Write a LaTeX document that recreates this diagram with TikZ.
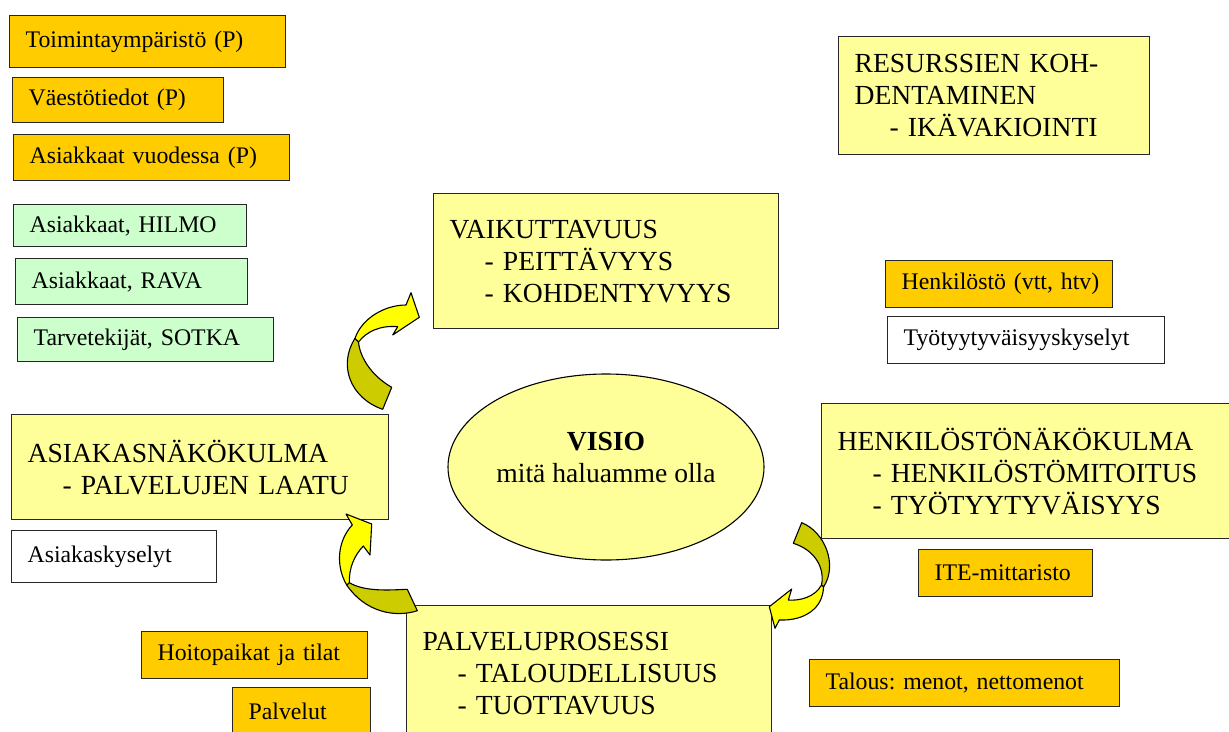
\documentclass[tikz,border=0pt]{standalone}
\usepackage{fontspec}
\setmainfont{Liberation Serif}
\usepackage{xcolor}
\usetikzlibrary{shapes.geometric}
\frenchspacing

\definecolor{boxorange}{HTML}{FFCC00}
\definecolor{boxgreen}{HTML}{CCFFCC}
\definecolor{boxyellow}{HTML}{FFFF99}
\definecolor{ribbonlight}{HTML}{FFFF00}
\definecolor{ribbondark}{HTML}{CCCC00}

\newcommand{\bigtext}{\fontsize{27.6pt}{32pt}\selectfont}
\newcommand{\smalltext}{\fontsize{23.8pt}{28pt}\selectfont}
\newcommand{\indline}{\hspace*{35pt}- }

\tikzset{
  databox/.style={draw=black!85, line width=1.2pt, anchor=north west,
    inner xsep=16pt, inner ysep=0pt, align=left, font=\smalltext},
  viewbox/.style={databox, fill=boxyellow, font=\bigtext},
  ribbon/.style={draw=black, line width=1.1pt, line join=round}
}

\begin{document}
\begin{tikzpicture}[x=1pt, y=-1pt]
\useasboundingbox (0,0) rectangle (1229,731);
\clip (0,0) rectangle (1229,731);

\node (vaik) [viewbox, text width=313pt, minimum height=135pt]
       at (433,193) {VAIKUTTAVUUS\\\indline PEITTÄVYYS\\\indline KOHDENTYVYYS};
\node (resurs) [viewbox, text width=279pt, minimum height=118pt]
       at (838,36) {RESURSSIEN KOH-\\DENTAMINEN\\\indline IKÄVAKIOINTI};
\node (asnak) [viewbox, text width=345pt, minimum height=105pt]
       at (11,414) {ASIAKASNÄKÖKULMA\\\indline PALVELUJEN LAATU};
\node (henak) [viewbox, text width=382pt, minimum height=135pt]
       at (821,403) {HENKILÖSTÖNÄKÖKULMA\\\indline HENKILÖSTÖMITOITUS\\\indline TYÖTYYTYVÄISYYS};
\node (palvp) [viewbox, text width=333pt, minimum height=136pt]
       at (406,605) {PALVELUPROSESSI\\\indline TALOUDELLISUUS\\\indline TUOTTAVUUS};

\node (toim) [databox, fill=boxorange, text width=244pt, minimum height=52pt]
       at (9,15) {Toimintaympäristö~(P)};
\node (vaest) [databox, fill=boxorange, text width=179pt, minimum height=45pt]
       at (12,77) {Väestötiedot~(P)};
\node (asvuod) [databox, fill=boxorange, text width=244pt, minimum height=46pt]
       at (13,134) {Asiakkaat vuodessa~(P)};
\node (hilmo) [databox, fill=boxgreen, text width=201pt, minimum height=42pt]
       at (13,204) {Asiakkaat, HILMO};
\node (rava) [databox, fill=boxgreen, text width=200pt, minimum height=46pt]
       at (15,258) {Asiakkaat, RAVA};
\node (sotka) [databox, fill=boxgreen, text width=224pt, minimum height=44pt]
       at (17,317) {Tarvetekijät, SOTKA};
\node (askys) [databox, fill=white, text width=173pt, minimum height=52pt]
       at (11,530) {Asiakaskyselyt};
\node (hoito) [databox, fill=boxorange, text width=194pt, minimum height=47pt]
       at (141,631) {Hoitopaikat ja tilat};
\node (palv) [databox, fill=boxorange, text width=106pt, minimum height=48pt]
       at (232,687) {Palvelut};
\node (henk) [databox, fill=boxorange, text width=195pt, minimum height=47pt]
       at (885,260) {Henkilöstö~(vtt,~htv)};
\node (tyoty) [databox, fill=white, text width=245pt, minimum height=47pt]
       at (887,316) {Työtyytyväisyyskyselyt};
\node (ite) [databox, fill=boxorange, text width=142pt, minimum height=47pt]
       at (918,549) {ITE-mittaristo};
\node (talous) [databox, fill=boxorange, text width=278pt, minimum height=47pt]
       at (809,659) {Talous: menot, nettomenot};

\node (visio) [ellipse, draw=black, line width=1.1pt, fill=boxyellow,
       minimum width=316pt, minimum height=186pt, inner sep=0pt]
       at (606,467) {};
\node (visiotxt) [align=center, font=\bigtext]
       at (606,457) {\textbf{VISIO}\\mitä haluamme olla};

\filldraw [ribbon, fill=ribbondark] (382.7,409.3) .. controls (350,398) and (338,365) .. (355,338.3)
  -- (358.5,342) .. controls (360,358) and (372,376) .. (391.7,387.3) -- cycle;
\filldraw [ribbon, fill=ribbonlight] (355,338.3) .. controls (362,318) and (385,305) .. (406,305)
  -- (411,292.7) -- (419.3,317.3) -- (392.7,335) -- (397.7,326.7)
  .. controls (380,325) and (366,332) .. (358.5,342) -- cycle;

\filldraw [ribbon, fill=ribbondark] (417.3,610.7) .. controls (395,618) and (365,612) .. (346.7,585)
  -- (349.3,582.7) .. controls (365,592) and (390,590) .. (407.3,589.3) -- cycle;
\filldraw [ribbon, fill=ribbonlight] (346.7,585) .. controls (335,565) and (338,540) .. (352.3,525)
  -- (346,514) -- (371.7,524) -- (370,555) -- (363.3,546)
  .. controls (354,556) and (349,568) .. (349.3,582.7) -- cycle;

\filldraw [ribbon, fill=ribbondark] (801.7,522.7) .. controls (825,532) and (838,565) .. (823.5,587)
  -- (821.5,585) .. controls (825,568) and (815,550) .. (793.3,543.3) -- cycle;
\filldraw [ribbon, fill=ribbonlight] (821.5,585) .. controls (815,597) and (800,601) .. (788.3,600)
  -- (791.7,589) -- (769.3,606.7) -- (775,628.3) -- (779.3,620)
  .. controls (805,621) and (823,608) .. (823.5,587) -- cycle;
\end{tikzpicture}
\end{document}
